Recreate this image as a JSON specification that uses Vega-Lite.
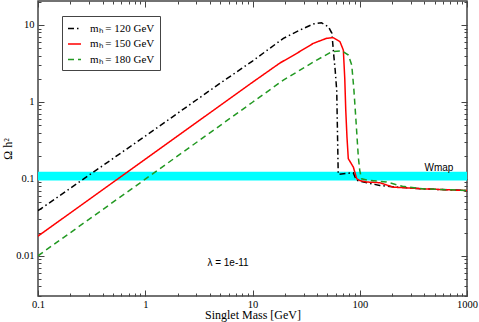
{
  "$schema": "https://vega.github.io/schema/vega-lite/v6.json",
  "width": 429,
  "height": 295,
  "autosize": "none",
  "padding": {"left": 38, "top": 1, "right": 12, "bottom": 26},
  "background": "white",
  "config": {
    "view": {"stroke": "#444", "strokeWidth": 1.5},
    "axis": {
      "labelFont": "Liberation Serif", "labelFontSize": 10.5, "labelColor": "black",
      "titleFont": "Liberation Serif", "titleFontSize": 12, "titleFontWeight": "normal", "titleColor": "black",
      "tickColor": "#444", "tickWidth": 1, "domain": false, "grid": false,
      "labelFlush": false, "labelOverlap": false, "zindex": 1
    }
  },
  "datasets": {
    "curves": [
      {"series": "mₕ = 120 GeV", "m": 0.1, "omega": 0.0385},
      {"series": "mₕ = 120 GeV", "m": 1, "omega": 0.36},
      {"series": "mₕ = 120 GeV", "m": 5, "omega": 1.75},
      {"series": "mₕ = 120 GeV", "m": 10, "omega": 3.4},
      {"series": "mₕ = 120 GeV", "m": 19.4, "omega": 6.7},
      {"series": "mₕ = 120 GeV", "m": 27.7, "omega": 8.6},
      {"series": "mₕ = 120 GeV", "m": 36.9, "omega": 10.3},
      {"series": "mₕ = 120 GeV", "m": 44, "omega": 10.7},
      {"series": "mₕ = 120 GeV", "m": 51, "omega": 9.5},
      {"series": "mₕ = 120 GeV", "m": 55, "omega": 7.8},
      {"series": "mₕ = 120 GeV", "m": 57, "omega": 4.3},
      {"series": "mₕ = 120 GeV", "m": 59, "omega": 2.6},
      {"series": "mₕ = 120 GeV", "m": 61, "omega": 1.4},
      {"series": "mₕ = 120 GeV", "m": 63, "omega": 0.114},
      {"series": "mₕ = 120 GeV", "m": 75, "omega": 0.118},
      {"series": "mₕ = 120 GeV", "m": 87, "omega": 0.12},
      {"series": "mₕ = 120 GeV", "m": 93, "omega": 0.096},
      {"series": "mₕ = 120 GeV", "m": 120, "omega": 0.088},
      {"series": "mₕ = 120 GeV", "m": 154, "omega": 0.082},
      {"series": "mₕ = 120 GeV", "m": 200, "omega": 0.079},
      {"series": "mₕ = 120 GeV", "m": 400, "omega": 0.074},
      {"series": "mₕ = 120 GeV", "m": 1000, "omega": 0.0705},
      {"series": "mₕ = 150 GeV", "m": 0.1, "omega": 0.018},
      {"series": "mₕ = 150 GeV", "m": 1, "omega": 0.18},
      {"series": "mₕ = 150 GeV", "m": 10, "omega": 1.8},
      {"series": "mₕ = 150 GeV", "m": 18, "omega": 3.2},
      {"series": "mₕ = 150 GeV", "m": 25.8, "omega": 4.27},
      {"series": "mₕ = 150 GeV", "m": 36.9, "omega": 5.77},
      {"series": "mₕ = 150 GeV", "m": 49.2, "omega": 6.72},
      {"series": "mₕ = 150 GeV", "m": 56.6, "omega": 6.84},
      {"series": "mₕ = 150 GeV", "m": 65.4, "omega": 6.06},
      {"series": "mₕ = 150 GeV", "m": 70.3, "omega": 4.72},
      {"series": "mₕ = 150 GeV", "m": 72.5, "omega": 2.0},
      {"series": "mₕ = 150 GeV", "m": 74, "omega": 0.8},
      {"series": "mₕ = 150 GeV", "m": 76, "omega": 0.35},
      {"series": "mₕ = 150 GeV", "m": 78.2, "omega": 0.183},
      {"series": "mₕ = 150 GeV", "m": 87.2, "omega": 0.142},
      {"series": "mₕ = 150 GeV", "m": 93.7, "omega": 0.1},
      {"series": "mₕ = 150 GeV", "m": 100, "omega": 0.095},
      {"series": "mₕ = 150 GeV", "m": 116, "omega": 0.091},
      {"series": "mₕ = 150 GeV", "m": 154, "omega": 0.089},
      {"series": "mₕ = 150 GeV", "m": 205, "omega": 0.078},
      {"series": "mₕ = 150 GeV", "m": 400, "omega": 0.074},
      {"series": "mₕ = 150 GeV", "m": 1000, "omega": 0.0705},
      {"series": "mₕ = 180 GeV", "m": 0.1, "omega": 0.01},
      {"series": "mₕ = 180 GeV", "m": 1, "omega": 0.099},
      {"series": "mₕ = 180 GeV", "m": 10, "omega": 0.99},
      {"series": "mₕ = 180 GeV", "m": 19.4, "omega": 1.92},
      {"series": "mₕ = 180 GeV", "m": 27.7, "omega": 2.59},
      {"series": "mₕ = 180 GeV", "m": 39.7, "omega": 3.5},
      {"series": "mₕ = 180 GeV", "m": 54.8, "omega": 4.49},
      {"series": "mₕ = 180 GeV", "m": 67.9, "omega": 4.62},
      {"series": "mₕ = 180 GeV", "m": 78.3, "omega": 4.06},
      {"series": "mₕ = 180 GeV", "m": 84.2, "omega": 3.01},
      {"series": "mₕ = 180 GeV", "m": 88, "omega": 1.5},
      {"series": "mₕ = 180 GeV", "m": 92, "omega": 0.6},
      {"series": "mₕ = 180 GeV", "m": 97, "omega": 0.192},
      {"series": "mₕ = 180 GeV", "m": 100, "omega": 0.129},
      {"series": "mₕ = 180 GeV", "m": 104, "omega": 0.1},
      {"series": "mₕ = 180 GeV", "m": 120, "omega": 0.096},
      {"series": "mₕ = 180 GeV", "m": 178, "omega": 0.091},
      {"series": "mₕ = 180 GeV", "m": 250, "omega": 0.08},
      {"series": "mₕ = 180 GeV", "m": 400, "omega": 0.074},
      {"series": "mₕ = 180 GeV", "m": 1000, "omega": 0.0707}
    ]
  },
  "layer": [
    {
      "data": {"values": [{"lo": 0.095, "hi": 0.124}]},
      "mark": {"type": "rect", "color": "#00ffff"},
      "encoding": {
        "y": {"field": "lo", "type": "quantitative", "scale": {"type": "log", "domain": [0.003, 20.5], "nice": false}, "axis": null},
        "y2": {"field": "hi"}
      }
    },
    {
      "data": {"name": "curves"},
      "mark": {"type": "line", "strokeWidth": 1.5, "clip": true},
      "encoding": {
        "x": {
          "field": "m", "type": "quantitative",
          "scale": {"type": "log", "domain": [0.1, 1000], "nice": false},
          "axis": {
            "orient": "bottom", "title": "Singlet Mass [GeV]", "titleY": 22.5, "titleBaseline": "alphabetic",
            "values": [0.1,0.2,0.3,0.4,0.5,0.6,0.7,0.8,0.9,1,2,3,4,5,6,7,8,9,10,20,30,40,50,60,70,80,90,100,200,300,400,500,600,700,800,900,1000],
            "format": "~g",
            "labelExpr": "abs(log(datum.value)/LN10 - round(log(datum.value)/LN10)) < 0.001 ? datum.label : ''",
            "tickSize": {"condition": {"test": "abs(log(datum.value)/LN10 - round(log(datum.value)/LN10)) < 0.001", "value": -6}, "value": -3},
            "labelPadding": 9
          }
        },
        "y": {
          "field": "omega", "type": "quantitative",
          "scale": {"type": "log", "domain": [0.003, 20.5], "nice": false},
          "axis": {
            "orient": "left", "title": "Ω h²", "titlePadding": 1,
            "values": [0.003,0.004,0.005,0.006,0.007,0.008,0.009,0.01,0.02,0.03,0.04,0.05,0.06,0.07,0.08,0.09,0.1,0.2,0.3,0.4,0.5,0.6,0.7,0.8,0.9,1,2,3,4,5,6,7,8,9,10,20],
            "format": "~g",
            "labelExpr": "abs(log(datum.value)/LN10 - round(log(datum.value)/LN10)) < 0.001 ? datum.label : ''",
            "tickSize": {"condition": {"test": "abs(log(datum.value)/LN10 - round(log(datum.value)/LN10)) < 0.001", "value": -6}, "value": -3},
            "labelPadding": 10
          }
        },
        "color": {
          "field": "series", "type": "nominal",
          "scale": {"domain": ["mₕ = 120 GeV", "mₕ = 150 GeV", "mₕ = 180 GeV"], "range": ["#000000", "#ff0000", "#229922"]},
          "legend": {
            "orient": "none", "legendX": 24, "legendY": 15, "title": null,
            "strokeColor": "#444", "fillColor": "white", "padding": 5,
            "symbolType": "stroke", "symbolSize": 169, "symbolStrokeWidth": 1.5,
            "labelFont": "Liberation Serif", "labelFontSize": 11, "labelOffset": 8, "rowPadding": 2.5
          }
        },
        "strokeDash": {
          "field": "series", "type": "nominal",
          "scale": {"domain": ["mₕ = 120 GeV", "mₕ = 150 GeV", "mₕ = 180 GeV"], "range": [[6, 3, 1.5, 3], [1, 0], [6, 4]]}
        }
      }
    },
    {
      "data": {"values": [{"m": 548, "omega": 0.1268, "label": "Wmap"}]},
      "mark": {"type": "text", "font": "Liberation Sans", "fontSize": 10, "align": "center", "baseline": "alphabetic"},
      "encoding": {
        "x": {
          "field": "m", "type": "quantitative",
          "axis": {
            "orient": "top", "title": null, "labels": false,
            "values": [0.1,0.2,0.3,0.4,0.5,0.6,0.7,0.8,0.9,1,2,3,4,5,6,7,8,9,10,20,30,40,50,60,70,80,90,100,200,300,400,500,600,700,800,900,1000],
            "tickSize": {"condition": {"test": "abs(log(datum.value)/LN10 - round(log(datum.value)/LN10)) < 0.001", "value": -6}, "value": -3}
          }
        },
        "y": {
          "field": "omega", "type": "quantitative",
          "axis": {
            "orient": "right", "title": null, "labels": false,
            "values": [0.003,0.004,0.005,0.006,0.007,0.008,0.009,0.01,0.02,0.03,0.04,0.05,0.06,0.07,0.08,0.09,0.1,0.2,0.3,0.4,0.5,0.6,0.7,0.8,0.9,1,2,3,4,5,6,7,8,9,10,20],
            "tickSize": {"condition": {"test": "abs(log(datum.value)/LN10 - round(log(datum.value)/LN10)) < 0.001", "value": -6}, "value": -3}
          }
        },
        "text": {"field": "label"}
      }
    },
    {
      "data": {"values": [{"m": 5.91, "omega": 0.00728, "label": "λ = 1e-11"}]},
      "mark": {"type": "text", "font": "Liberation Sans", "fontSize": 10, "align": "center", "baseline": "alphabetic"},
      "encoding": {
        "x": {"field": "m", "type": "quantitative", "axis": null},
        "y": {"field": "omega", "type": "quantitative", "axis": null},
        "text": {"field": "label"}
      }
    }
  ],
  "resolve": {"axis": {"x": "independent", "y": "independent"}}
}
